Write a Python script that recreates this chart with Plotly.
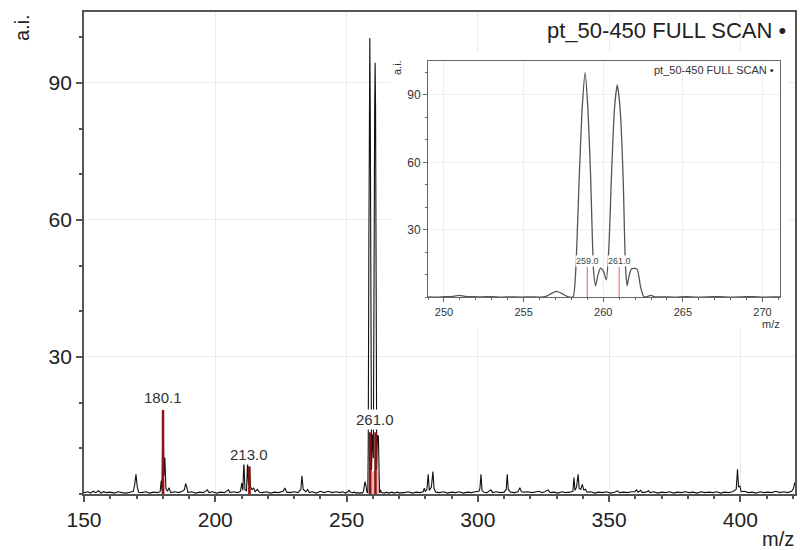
import plotly.graph_objects as go

FONT = "Liberation Sans, Arial, sans-serif"

# Full scan profile, m/z 150-249: (m/z, intensity a.i.)
low_scan = [
    (150.0, 0.3), (151.5, 0.5), (152.5, 0.2), (153.5, 0.6), (154.5, 0.3), (155.5, 0.7),
    (156.5, 0.2), (157.5, 0.5), (158.5, 0.3), (160.0, 0.4), (161.5, 0.2), (163.0, 0.5),
    (164.5, 0.3), (166.0, 0.2), (167.5, 0.4), (168.8, 0.6), (169.3, 2.0), (169.8, 4.3),
    (170.3, 1.5), (170.8, 0.4), (172.0, 0.3), (173.5, 0.5), (175.0, 0.2), (176.5, 0.4),
    (178.0, 0.3), (179.0, 0.5), (179.4, 2.9), (179.7, 0.8), (180.1, 18.4), (180.45, 4.0),
    (180.8, 8.0), (181.2, 1.2), (181.8, 0.6), (182.4, 1.4), (183.0, 0.3), (184.5, 0.5),
    (186.0, 0.3), (187.5, 0.6), (188.3, 1.0), (188.7, 2.3), (189.1, 1.6), (189.6, 0.3),
    (191.0, 0.5), (192.5, 0.2), (194.0, 0.4), (195.5, 0.3), (197.0, 0.9), (197.6, 0.3),
    (199.0, 0.5), (200.5, 0.2), (202.0, 0.4), (203.5, 0.3), (205.0, 0.9), (205.6, 0.3),
    (207.0, 0.5), (208.5, 0.3), (209.6, 0.6), (210.1, 2.4), (210.5, 0.8), (210.9, 7.1),
    (211.3, 1.0), (211.9, 0.6), (212.3, 7.1), (212.65, 2.0), (213.0, 6.0), (213.4, 1.5),
    (214.0, 1.0), (214.6, 1.3), (215.2, 0.5), (216.0, 1.0), (216.8, 0.4), (218.0, 0.3),
    (219.5, 0.5), (221.0, 0.2), (222.5, 0.4), (224.0, 0.3), (225.8, 0.6), (226.5, 1.3),
    (227.2, 0.4), (228.5, 0.3), (230.0, 0.5), (231.5, 0.3), (232.6, 1.0), (233.0, 4.0),
    (233.5, 1.0), (234.5, 0.5), (235.2, 1.0), (235.8, 0.3), (237.0, 0.5), (238.5, 0.2),
    (240.0, 0.6), (241.5, 0.3), (243.0, 0.6), (244.5, 0.3), (246.0, 0.5), (247.5, 0.3),
    (248.5, 0.5),
]

# Profile around the 259/261 doublet (shown in the inset, and part of the full scan)
doublet_mz = [
    249.0, 249.6, 250.2, 250.6, 250.95, 251.3, 251.8, 252.4, 253.0, 253.6, 254.2, 254.8,
    255.4, 256.0, 256.4, 256.7, 257.05, 257.4, 257.75, 258.1, 258.26, 258.5, 258.68, 258.86,
    259.03, 259.2, 259.4, 259.52, 259.65, 259.83, 260.02, 260.19, 260.35, 260.52, 260.71,
    260.88, 261.05, 261.24, 261.4, 261.5, 261.62, 261.75, 261.9, 262.13, 262.34, 262.55,
    262.75, 262.97, 263.25, 263.8, 264.5, 265.2, 265.9, 266.6, 267.3, 268.0, 268.7, 269.4,
    270.1, 270.8, 271.1,
]
doublet_int = [
    0.3, 0.2, 0.4, 0.5, 0.9, 0.5, 0.4, 0.3, 0.4, 0.2, 0.3, 0.2,
    0.3, 0.2, 0.5, 1.6, 2.7, 1.8, 0.4, 0.3, 10.6, 54.9, 84.5, 99.8,
    84.5, 55.0, 11.0, 5.2, 9.5, 13.0, 11.5, 7.8, 22.0, 54.9, 84.5,
    94.4, 84.5, 55.0, 13.0, 5.2, 9.5, 12.5, 12.9, 12.5, 4.8, 0.3,
    0.4, 0.9, 0.3, 0.3, 0.2, 0.4, 0.2, 0.3, 0.4, 0.2, 0.3, 0.4,
    0.2, 0.3, 0.3,
]

# Full scan profile, m/z 272-421
high_scan = [
    (272.0, 0.3), (273.5, 0.5), (275.0, 0.2), (276.5, 0.4), (278.0, 0.3), (279.2, 0.5),
    (279.6, 1.3), (280.0, 0.5), (280.6, 1.0), (281.1, 4.3), (281.5, 0.8), (282.3, 1.5),
    (282.9, 4.9), (283.3, 1.2), (284.0, 0.4), (285.5, 0.3), (287.0, 0.5), (288.5, 0.2),
    (290.0, 0.4), (291.5, 0.3), (293.0, 0.5), (294.5, 0.2), (296.0, 0.4), (297.5, 0.3),
    (299.0, 0.5), (300.4, 0.6), (300.8, 1.2), (301.2, 4.3), (301.6, 0.8), (302.3, 0.4),
    (303.5, 0.3), (305.0, 0.9), (305.6, 0.3), (307.0, 0.5), (308.5, 0.3), (310.0, 0.4),
    (310.8, 1.0), (311.2, 4.3), (311.6, 1.0), (312.5, 0.4), (314.0, 0.3), (315.3, 0.5),
    (316.0, 1.4), (316.6, 0.5), (317.5, 0.4), (319.0, 0.5), (320.5, 0.3), (322.0, 0.5),
    (323.5, 0.6), (324.3, 0.3), (325.5, 0.5), (326.8, 0.9), (327.5, 0.3), (329.0, 0.4),
    (330.5, 0.2), (332.0, 0.5), (333.5, 0.3), (335.0, 0.4), (336.2, 0.6), (336.6, 3.6),
    (337.0, 0.8), (337.6, 1.5), (338.2, 4.3), (338.6, 1.2), (339.2, 1.0), (339.8, 2.1),
    (340.3, 0.9), (341.0, 1.0), (341.6, 0.4), (343.0, 0.5), (344.5, 0.2), (346.0, 0.4),
    (347.5, 0.3), (349.0, 0.5), (350.5, 0.2), (352.0, 0.4), (353.2, 0.7), (354.0, 0.3),
    (355.5, 0.4), (357.0, 0.3), (358.5, 0.5), (359.8, 0.5), (360.4, 0.9), (361.0, 0.4),
    (362.0, 0.8), (362.6, 0.3), (364.0, 0.4), (365.0, 0.7), (365.6, 0.3), (367.0, 0.5),
    (368.5, 0.2), (370.0, 0.4), (371.5, 0.3), (373.0, 0.5), (374.5, 0.2), (376.0, 0.4),
    (377.5, 0.3), (379.0, 0.5), (380.5, 0.3), (382.0, 0.4), (383.5, 0.2), (385.0, 0.5),
    (386.5, 0.3), (388.0, 0.4), (389.5, 0.3), (391.0, 0.5), (392.5, 0.2), (394.0, 0.4),
    (395.5, 0.3), (397.0, 0.5), (398.4, 1.0), (398.9, 5.4), (399.3, 1.5), (399.8, 1.7),
    (400.3, 0.5), (401.5, 0.6), (403.0, 0.3), (404.5, 0.4), (406.0, 0.2), (407.5, 0.5),
    (409.0, 0.3), (410.5, 0.4), (412.0, 0.3), (413.5, 0.6), (415.0, 0.3), (416.5, 0.5),
    (418.0, 0.3), (419.5, 0.6), (420.2, 1.2), (420.7, 2.5), (421.0, 2.0),
]

# Labelled centroid peaks
peak_mz = [180.1, 213.0, 259.0, 261.0]
peak_int = [18.4, 6.0, 13.5, 13.5]
peak_text = ["180.1", "213.0", "259.0", "261.0"]
main_labelled = [0, 1, 3]      # 259.0 sits under the 261.0 tag in the full view
inset_labelled = [2, 3]

# Integration windows under the labelled peaks
win_lo = [179.5, 212.4, 258.4]
win_hi = [180.7, 213.7, 262.3]
win_int = [3.0, 1.2, 5.0]

scan_mz = [m for m, _ in low_scan] + doublet_mz + [m for m, _ in high_scan]
scan_int = [v for _, v in low_scan] + doublet_int + [v for _, v in high_scan]

stick_x, stick_y = [], []
for m, h in zip(peak_mz, peak_int):
    stick_x += [m, m, None]
    stick_y += [0, h, None]

win_x, win_y = [], []
for lo, hi, h in zip(win_lo, win_hi, win_int):
    win_x += [lo, lo, hi, hi, lo, None]
    win_y += [0, h, h, 0, 0, None]

fig = go.Figure()

# full scan
fig.add_trace(go.Scatter(x=win_x, y=win_y, fill="toself", mode="none",
                         fillcolor="rgba(255,150,150,0.75)", xaxis="x", yaxis="y",
                         hoverinfo="skip"))
fig.add_trace(go.Scatter(x=scan_mz, y=scan_int, mode="lines",
                         line=dict(color="#111111", width=1.1), xaxis="x", yaxis="y"))
fig.add_trace(go.Scatter(x=stick_x, y=stick_y, mode="lines",
                         line=dict(color="#8b1414", width=2.5), xaxis="x", yaxis="y"))

# blank panel behind the inset
fig.add_trace(go.Scatter(x=[None], y=[None], xaxis="x2", yaxis="y2", hoverinfo="skip"))

# inset: doublet profile
fig.add_trace(go.Scatter(x=doublet_mz, y=doublet_int, mode="lines",
                         line=dict(color="#555555", width=1.3, shape="spline", smoothing=0.6),
                         xaxis="x3", yaxis="y3"))
in_x, in_y = [], []
for i in inset_labelled:
    in_x += [peak_mz[i], peak_mz[i], None]
    in_y += [0, peak_int[i], None]
fig.add_trace(go.Scatter(x=in_x, y=in_y, mode="lines",
                         line=dict(color="#ff7070", width=1.2), xaxis="x3", yaxis="y3"))

axis_common = dict(showline=True, mirror=True, zeroline=False, ticks="outside")

fig.update_layout(
    width=800, height=550,
    margin=dict(l=84, r=3, t=12, b=56),
    paper_bgcolor="white", plot_bgcolor="white",
    showlegend=False,
    font=dict(family=FONT, color="#222222"),
    xaxis=dict(**axis_common, domain=[0, 1], range=[150, 420.8], tick0=150, dtick=50,
               ticklen=6, tickwidth=1.5, tickcolor="#555555",
               linecolor="#555555", linewidth=1.8,
               showgrid=True, gridcolor="#ebebeb", gridwidth=1,
               tickfont=dict(size=21, color="#222222"),
               minor=dict(tick0=150, dtick=10, ticks="outside", ticklen=3,
                          tickcolor="#555555", showgrid=False)),
    yaxis=dict(**axis_common, domain=[0, 1], range=[0, 105.5], tickvals=[30, 60, 90],
               ticklen=6, tickwidth=1.5, tickcolor="#555555",
               linecolor="#555555", linewidth=1.8,
               showgrid=True, gridcolor="#ebebeb", gridwidth=1,
               tickfont=dict(size=21, color="#222222"),
               minor=dict(tick0=0, dtick=10, ticks="outside", ticklen=3,
                          tickcolor="#555555", showgrid=False)),
    xaxis2=dict(domain=[0.432, 0.990], anchor="y2", visible=False, range=[0, 1]),
    yaxis2=dict(domain=[0.344, 0.917], anchor="x2", visible=False, range=[0, 1]),
    xaxis3=dict(**axis_common, domain=[0.4839, 0.979], anchor="y3", range=[249, 271.1],
                tick0=250, dtick=5, ticklen=4, tickcolor="#666666",
                linecolor="#666666", linewidth=1,
                showgrid=True, gridcolor="#efefef", gridwidth=1,
                tickfont=dict(size=11, color="#333333"),
                minor=dict(tick0=249, dtick=1, ticks="outside", ticklen=2,
                           tickcolor="#666666", showgrid=False)),
    yaxis3=dict(**axis_common, domain=[0.4077, 0.8983], anchor="x3", range=[0, 105],
                tickvals=[30, 60, 90], ticklen=4, tickcolor="#666666",
                linecolor="#666666", linewidth=1,
                showgrid=True, gridcolor="#efefef", gridwidth=1,
                tickfont=dict(size=12, color="#333333"),
                minor=dict(tick0=0, dtick=10, ticks="outside", ticklen=2,
                           tickcolor="#666666", showgrid=False)),
)

notes = [
    dict(text="a.i.", x=-0.087, y=0.967, textangle=-90, font=dict(size=20)),
    dict(text="m/z", x=0.976, y=-0.093, font=dict(size=20)),
    dict(text="pt_50-450 FULL SCAN •", x=0.990, y=0.9606, xanchor="right",
         font=dict(size=22)),
    dict(text="pt_50-450 FULL SCAN •", x=0.9733, y=0.8797, xanchor="right",
         font=dict(size=11, color="#333333")),
    dict(text="a.i.", x=0.4404, y=0.884, textangle=-90, font=dict(size=11, color="#333333")),
    dict(text="m/z", x=0.966, y=0.352, font=dict(size=11, color="#333333")),
]
for n in notes:
    n.setdefault("xanchor", "center")
    fig.add_annotation(xref="paper", yref="paper", yanchor="middle", showarrow=False, **n)

for i in main_labelled:
    fig.add_annotation(x=peak_mz[i], y=peak_int[i], xref="x", yref="y", text=peak_text[i],
                       showarrow=False, yanchor="bottom", yshift=2, bgcolor="white",
                       borderpad=1, font=dict(size=15, color="#333333"))
for i in inset_labelled:
    fig.add_annotation(x=peak_mz[i], y=peak_int[i], xref="x3", yref="y3", text=peak_text[i],
                       showarrow=False, yanchor="bottom", yshift=0, bgcolor="white",
                       borderpad=0, font=dict(size=9, color="#444444"))

fig.write_html("out.html")
